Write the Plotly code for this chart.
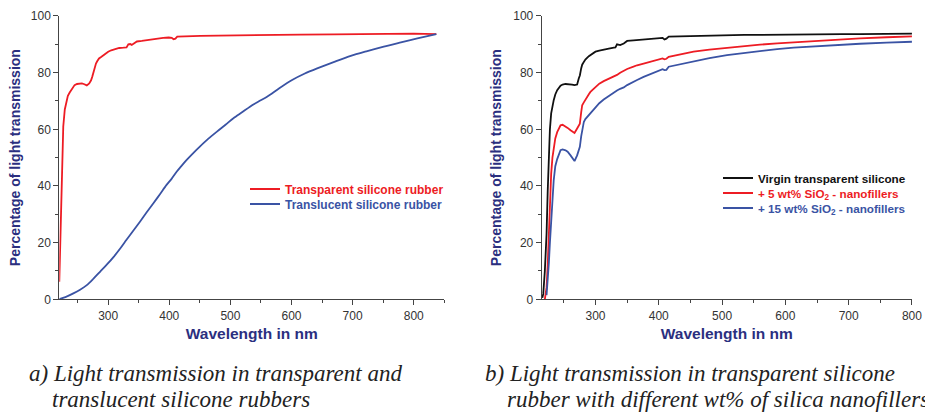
import plotly.graph_objects as go

# ---------- data ----------
# (a) left panel
wl_transparent = [220, 222, 224, 226.5, 229, 231.7, 234, 237, 241, 245, 249, 253, 257, 261, 265, 269,
                  272, 274, 276, 278, 280, 282, 285, 289, 294, 300, 305, 311, 318, 325, 330, 333,
                  336, 338.5, 342, 347, 355, 363, 371, 380, 390, 399, 404, 407, 410, 413, 420,
                  435, 451, 480, 506, 560, 615, 670, 724, 760, 800, 837]
v_transparent = [6.2, 25, 45, 61, 67, 70, 71.8, 73, 74.5, 75.6, 76.0, 76.2, 76.2, 75.9, 75.5, 76.2,
                 77.3, 78.6, 80.5, 82, 83.2, 84, 85, 85.6, 86.5, 87.4, 87.9, 88.4, 88.7, 88.8, 88.9, 90,
                 90.1, 89.8, 90.3, 91, 91.2, 91.5, 91.8, 92.1, 92.3, 92.4, 92.3, 91.8, 92.0, 92.7, 92.8,
                 92.9, 93, 93.1, 93.2, 93.3, 93.4, 93.5, 93.6, 93.7, 93.8, 93.6]

wl_translucent = [220, 230, 243, 254, 265, 276, 287, 298, 309, 320, 330, 341, 352, 363, 374, 385,
                  395.5, 404, 412, 420, 428.5, 440, 450, 464, 478, 492, 505, 519, 532, 546, 560,
                  580, 601, 621, 642, 670, 697, 724, 751, 779, 806, 837]
v_translucent = [0.1, 0.8, 2.1, 3.4, 5.0, 7.3, 9.8, 12.3, 15.0, 18.0, 21.0, 24.2, 27.4, 30.7, 33.9, 37.2,
                 40.4, 42.6, 45.0, 47.1, 49.2, 51.8, 53.9, 56.7, 59.2, 61.6, 63.9, 66.0, 68.0, 69.8, 71.5,
                 74.5, 77.4, 79.6, 81.5, 83.8, 85.9, 87.6, 89.2, 90.7, 92.1, 93.6]

# (b) right panel
wl_b = [216, 217.5, 220, 222.7, 224.5, 226.4, 228, 230, 232, 234, 236.5, 239.5, 244.8, 248, 252.7, 256,
        260.6, 263, 266.9, 271, 273.7, 275.3, 277.4, 279, 281.6, 284, 289.5, 292, 300, 306, 313,
        321, 329, 331.5, 334, 339, 344.7, 350, 360, 365.7, 376, 386.8, 397, 402.5, 406, 409, 412,
        415.7, 430, 455, 480, 507.7, 535, 560, 587, 613, 640, 665, 690, 718, 760, 800]
v_virgin = [0.5, 1.9, 10, 23, 38, 52.6, 60, 65.6, 68.5, 70.3, 72.3, 73.8, 75.4, 75.8, 76, 76,
            76, 75.8, 75.6, 75.8, 78, 79, 81.5, 82.8, 83.8, 84.6, 85.8, 86.2, 87.4, 87.8, 88.2,
            88.5, 88.8, 88.9, 90, 89.7, 90.3, 91.2, 91.4, 91.5, 91.7, 92.0, 92.3, 92.4, 92.3, 91.7, 92.0,
            92.7, 92.8, 93, 93.1, 93.2, 93.3, 93.3, 93.4, 93.4, 93.5, 93.5, 93.6, 93.6, 93.7, 93.8]
v_5wt = [None, None, 0, 4.2, 12, 23, 34, 44.3, 50, 53.8, 56.8, 59, 61.4, 61.6, 61.1, 60.5,
         59.7, 59.2, 58.7, 60.3, 61.4, 62, 66, 68.5, 69.5, 70.5, 72.4, 73.2, 75, 76.1, 77,
         77.8, 78.5, 78.8, 79.2, 80, 80.7, 81.3, 82.1, 82.6, 83.2, 83.8, 84.4, 84.7, 85, 84.7, 84.9,
         85.6, 86.3, 87.4, 88.1, 88.8, 89.4, 89.9, 90.3, 90.7, 91.1, 91.5, 91.8, 92.1, 92.5, 92.8]
v_15wt = [None, None, None, 1.5, 6, 13, 20, 28, 35, 42, 47, 49.5, 52.6, 52.9, 52.6, 52.1,
          50.8, 50, 48.8, 50.8, 52.6, 53.8, 57.5, 59.5, 62.6, 63.6, 65, 65.8, 67.9, 69.2, 70.5,
          71.8, 73, 73.3, 73.7, 74.3, 74.8, 75.6, 76.9, 77.4, 78.5, 79.5, 80.4, 81.1, 81.2, 80.9, 81.0,
          82.1, 82.8, 83.8, 85.1, 86.2, 87, 87.7, 88.3, 88.8, 89.2, 89.6, 89.9, 90.2, 90.6, 90.9]

names_a = ["Transparent silicone rubber", "Translucent silicone rubber"]
names_b = ["Virgin transparent silicone", "+ 5 wt% SiO<sub>2</sub> - nanofillers",
           "+ 15 wt% SiO<sub>2</sub> - nanofillers"]
caption_a = ["a) Light transmission in transparent and", "translucent silicone rubbers"]
caption_b = ["b) Light transmission in transparent silicone",
             "rubber with different wt% of silica nanofillers"]
x_title = "Wavelength in nm"
y_title = "Percentage of light transmission"

# ---------- styles ----------
RED = "#ed1c24"
BLUE = "#3a53a4"
BLACK = "#111111"
NAVY = "#2b2f7f"
AXIS = "#444444"
SANS = "Liberation Sans, Arial, sans-serif"
SERIF = "Liberation Serif, Times New Roman, serif"
W, H = 925, 412


def lbl(text, color):
    return f"<span style='color:{color}'>{text}</span>"


fig = go.Figure()
fig.add_trace(go.Scatter(x=wl_transparent, y=v_transparent, mode="lines",
                         line=dict(color=RED, width=1.8), name=lbl(names_a[0], RED),
                         xaxis="x", yaxis="y", legend="legend"))
fig.add_trace(go.Scatter(x=wl_translucent, y=v_translucent, mode="lines",
                         line=dict(color=BLUE, width=1.8, shape="spline", smoothing=0.8),
                         name=lbl(names_a[1], BLUE),
                         xaxis="x", yaxis="y", legend="legend2"))
fig.add_trace(go.Scatter(x=wl_b, y=v_virgin, mode="lines",
                         line=dict(color=BLACK, width=1.8), name=lbl(names_b[0], BLACK),
                         xaxis="x2", yaxis="y2", legend="legend3"))
fig.add_trace(go.Scatter(x=wl_b, y=v_5wt, mode="lines",
                         line=dict(color=RED, width=1.8), name=lbl(names_b[1], RED),
                         xaxis="x2", yaxis="y2", legend="legend4"))
fig.add_trace(go.Scatter(x=wl_b, y=v_15wt, mode="lines",
                         line=dict(color=BLUE, width=1.8), name=lbl(names_b[2], BLUE),
                         xaxis="x2", yaxis="y2", legend="legend5"))


def xaxis(domain, rng, anchor):
    return dict(domain=domain, range=rng, anchor=anchor, showgrid=False, zeroline=False,
                showline=True, linecolor=AXIS, linewidth=1,
                ticks="outside", ticklen=5, tickcolor=AXIS, tickwidth=1,
                tick0=0, dtick=100,
                minor=dict(ticks="outside", ticklen=3, tickcolor=AXIS, dtick=50, tick0=0),
                tickfont=dict(family=SANS, size=12, color="#333333"),
                title=dict(text=x_title, standoff=6,
                           font=dict(family=SANS, size=15.5, color=NAVY, weight="bold")),
                automargin=False)


def yaxis(domain, anchor, standoff):
    return dict(domain=domain, range=[0, 100], anchor=anchor, showgrid=False, zeroline=False,
                showline=True, linecolor=AXIS, linewidth=1,
                ticks="outside", ticklen=5, tickcolor=AXIS, tickwidth=1,
                tick0=0, dtick=20,
                minor=dict(ticks="outside", ticklen=3, tickcolor=AXIS, dtick=10, tick0=0),
                tickfont=dict(family=SANS, size=12, color="#333333"),
                title=dict(text=y_title, standoff=standoff,
                           font=dict(family=SANS, size=14, color=NAVY, weight="bold")),
                automargin=False)


def legend(px, py, size):
    return dict(x=px / W, y=1 - py / H, xanchor="left", yanchor="middle",
                bgcolor="rgba(0,0,0,0)", borderwidth=0,
                font=dict(family=SANS, size=size, weight="bold"))


ydom = [0.2735, 0.9612]
fig.update_layout(
    width=W, height=H,
    margin=dict(l=0, r=0, t=0, b=0),
    paper_bgcolor="white", plot_bgcolor="white",
    xaxis=xaxis([0.0641, 0.4803], [220, 850], "y"),
    yaxis=yaxis(ydom, "x", 6),
    xaxis2=xaxis([0.5856, 0.9859], [215, 800], "y2"),
    yaxis2=yaxis(ydom, "x2", 8),
    legend=legend(245, 189, 12),
    legend2=legend(245, 204, 12),
    legend3=legend(718, 178, 11.7),
    legend4=legend(718, 193, 11.7),
    legend5=legend(718, 208, 11.7),
    showlegend=True,
)

caps = [(caption_a[0], 27, 373), (caption_a[1], 50, 399),
        (caption_b[0], 483, 373), (caption_b[1], 505, 399)]
for text, px, py in caps:
    fig.add_annotation(text=text, xref="paper", yref="paper", x=px / W, y=1 - py / H,
                       xanchor="left", yanchor="middle", showarrow=False,
                       font=dict(family=SERIF, size=23, color="#222222", style="italic"))

fig.write_html("out.html", config={"displayModeBar": False},
               post_script="document.body.style.margin='0';document.body.style.padding='0';")
